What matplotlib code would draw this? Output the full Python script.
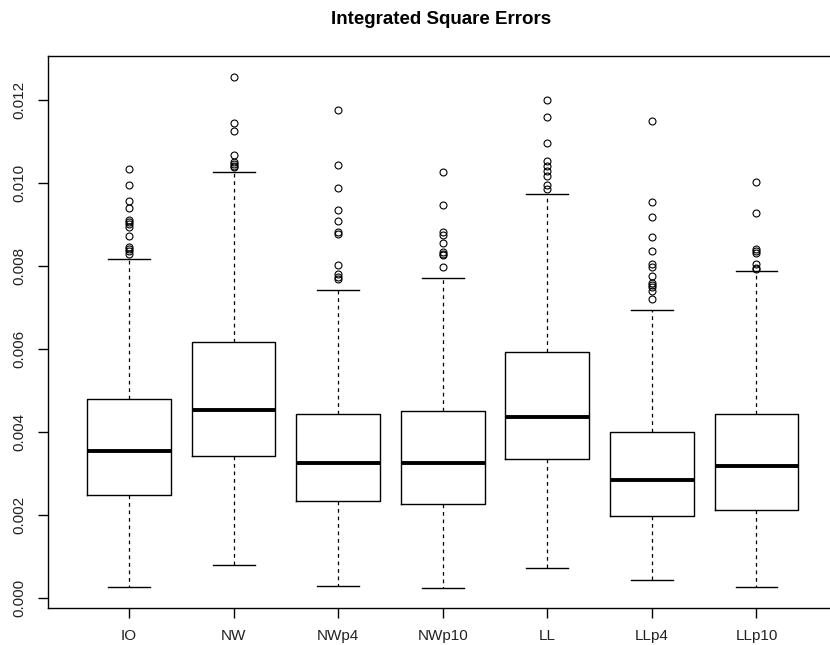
import matplotlib
matplotlib.use("Agg")
import matplotlib.pyplot as plt

plt.rcParams['font.family'] = ['Liberation Sans', 'DejaVu Sans']

categories = ["IO", "NW", "NWp4", "NWp10", "LL", "LLp4", "LLp10"]

# values in units of 0.001
q1 = [2.494, 3.418, 2.349, 2.277, 3.353, 1.974, 2.132]
med = [3.538, 4.532, 3.249, 3.264, 4.363, 2.840, 3.177]
q3 = [4.797, 6.176, 4.436, 4.515, 5.935, 4.010, 4.436]
whislo = [0.279, 0.801, 0.303, 0.255, 0.729, 0.448, 0.279]
whishi = [8.166, 10.26, 7.42, 7.716, 9.72, 6.94, 7.877]

out_IO = [10.33, 9.954, 9.555, 9.386, 9.105, 9.05, 9.0, 8.94, 8.72, 8.46, 8.41, 8.35, 8.29]
out_NW = [12.55, 11.43, 11.24, 10.66, 10.5, 10.45, 10.40, 10.37]
out_NWp4 = [11.76, 10.42, 9.88, 9.35, 9.09, 8.82, 8.78, 8.03, 7.81, 7.74, 7.68]
out_NWp10 = [10.26, 9.46, 8.82, 8.74, 8.54, 8.33, 8.29, 8.26, 7.98]
out_LL = [12.0, 11.58, 10.97, 10.53, 10.40, 10.28, 10.16, 9.95, 9.86]
out_LLp4 = [11.5, 9.55, 9.18, 8.70, 8.37, 8.05, 7.98, 7.75, 7.60, 7.54, 7.49, 7.40, 7.20]
out_LLp10 = [10.03, 9.27, 8.41, 8.36, 8.30, 8.05, 7.94, 7.92]
outliers = [out_IO, out_NW, out_NWp4, out_NWp10, out_LL, out_LLp4, out_LLp10]

yticks = [0.000, 0.002, 0.004, 0.006, 0.008, 0.010, 0.012]
title = "Integrated Square Errors"

s = 0.001
stats = []
for i, c in enumerate(categories):
    stats.append(dict(label=c, q1=q1[i]*s, med=med[i]*s, q3=q3[i]*s,
                      whislo=whislo[i]*s, whishi=whishi[i]*s,
                      fliers=[v*s for v in outliers[i]]))

fig = plt.figure(figsize=(8.30, 6.45), dpi=100)
ax = fig.add_axes([47.5/830, (645-607.7)/645, (838-47.5)/830, (607.7-55.7)/645])

ax.bxp(stats, positions=range(1, len(categories)+1), widths=0.8,
       boxprops=dict(color='black', linewidth=1.0),
       medianprops=dict(color='black', linewidth=2.8, solid_capstyle='butt'),
       whiskerprops=dict(color='black', linewidth=0.9, linestyle=(0, (3, 3))),
       capprops=dict(color='black', linewidth=1.0),
       capwidths=0.4,
       flierprops=dict(marker='o', markersize=5, markerfacecolor='none',
                       markeredgecolor='black', markeredgewidth=0.8, linestyle='none'))

ax.set_xlim(0.22, 7.78)
ax.set_ylim(-0.000226, 0.01306)
ax.set_xticks(range(1, len(categories)+1))
ax.set_xticklabels(categories, fontsize=11, color='#222222')
ax.set_yticks(yticks)
ax.set_yticklabels(["%.3f" % v for v in yticks], rotation=90, va='center', fontsize=11, color='#222222')
ax.tick_params(axis='both', length=7, width=1, direction='out')
ax.tick_params(axis='x', pad=8)
ax.tick_params(axis='y', pad=8)
for sp in ax.spines.values():
    sp.set_linewidth(1.0)

fig.text(441.5/830, 1 - 20/645, title, ha='center', va='center', fontsize=13.5, fontweight='bold')

fig.savefig("out.png", dpi=100)
